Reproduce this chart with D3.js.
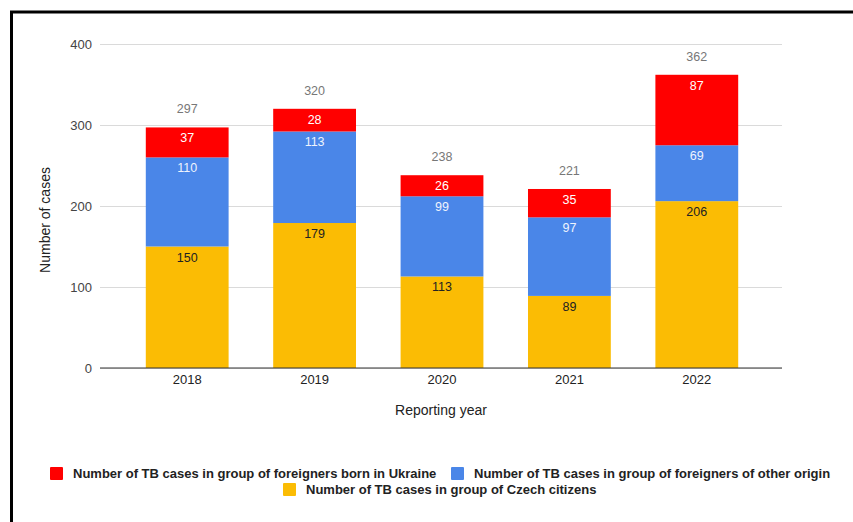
<!DOCTYPE html>
<html>
<head>
<meta charset="utf-8">
<script src="https://cdn.jsdelivr.net/npm/d3@7"></script>
<style>
  html, body { margin: 0; padding: 0; background: #fff; }
  svg { display: block; font-family: "Liberation Sans", Arial, sans-serif; }
</style>
</head>
<body>
<svg id="chart" width="853" height="522"></svg>
<script>
// Reported TB cases by population group, Czech Republic
const years = ["2018", "2019", "2020", "2021", "2022"];
const czech = [150, 179, 113, 89, 206];
const otherForeign = [110, 113, 99, 97, 69];
const ukraine = [37, 28, 26, 35, 87];
const yTicks = [0, 100, 200, 300, 400];

const seriesNames = [
  "Number of TB cases in group of Czech citizens",
  "Number of TB cases in group of foreigners of other origin",
  "Number of TB cases in group of foreigners born in Ukraine"
];
const seriesKeys = ["czech", "other", "ukraine"];
const colors = { czech: "#fbbc04", other: "#4a86e8", ukraine: "#ff0000" };
const labelColors = { czech: "#222", other: "#eef3fd", ukraine: "#fff" };

const rows = years.map((y, i) => ({
  year: y, czech: czech[i], other: otherForeign[i], ukraine: ukraine[i]
}));

const svg = d3.select("#chart");

// outer frame
svg.append("path")
  .attr("d", "M11.5,522 L11.5,12 L853,12")
  .attr("fill", "none").attr("stroke", "#000").attr("stroke-width", 3);

const plot = { left: 100, right: 782, top: 44, bottom: 368 };

const x = d3.scaleBand()
  .domain(years)
  .range([123.5, 760.5])
  .paddingInner(0.35)
  .paddingOuter(0.175);

const y = d3.scaleLinear().domain([0, 400]).range([plot.bottom, plot.top]);

// gridlines + y tick labels
const yAxis = d3.axisLeft(y).tickValues(yTicks).tickSize(-(plot.right - plot.left)).tickPadding(8);
const gy = svg.append("g").attr("transform", `translate(${plot.left},0)`).call(yAxis);
gy.select(".domain").remove();
gy.selectAll(".tick line").attr("stroke", "#dadada").attr("stroke-width", 1);
gy.selectAll(".tick text").attr("fill", "#444").attr("font-size", 13).attr("font-family", "Liberation Sans, Arial, sans-serif");

// stacked bars
const stack = d3.stack().keys(seriesKeys)(rows);
const layers = svg.append("g").selectAll("g").data(stack).join("g")
  .attr("fill", d => colors[d.key]);

layers.selectAll("rect").data(d => d).join("rect")
  .attr("x", d => x(d.data.year))
  .attr("width", x.bandwidth())
  .attr("y", d => y(d[1]))
  .attr("height", d => y(d[0]) - y(d[1]));

// segment value labels
svg.append("g").selectAll("g").data(stack).join("g")
  .attr("fill", d => labelColors[d.key])
  .each(function (layer) {
    d3.select(this).selectAll("text").data(layer).join("text")
      .attr("x", d => x(d.data.year) + x.bandwidth() / 2)
      .attr("y", d => y(d[1]) + 15)
      .attr("text-anchor", "middle")
      .attr("font-size", 12.5)
      .text(d => d[1] - d[0]);
  });

// totals above bars
svg.append("g").selectAll("text").data(rows).join("text")
  .attr("x", d => x(d.year) + x.bandwidth() / 2)
  .attr("y", d => y(d.czech + d.other + d.ukraine) - 14)
  .attr("text-anchor", "middle")
  .attr("font-size", 12.5)
  .attr("fill", "#777")
  .text(d => d.czech + d.other + d.ukraine);

// baseline
svg.append("line")
  .attr("x1", plot.left).attr("x2", plot.right)
  .attr("y1", y(0)).attr("y2", y(0))
  .attr("stroke", "#333").attr("stroke-width", 1);

// x axis labels
const xAxis = d3.axisBottom(x).tickSize(0).tickPadding(7);
const gx = svg.append("g").attr("transform", `translate(0,${y(0)})`).call(xAxis);
gx.select(".domain").remove();
gx.selectAll(".tick text").attr("fill", "#222").attr("font-size", 13).attr("font-family", "Liberation Sans, Arial, sans-serif");

// axis titles
svg.append("text")
  .attr("x", 441).attr("y", 415)
  .attr("text-anchor", "middle")
  .attr("font-size", 14).attr("fill", "#222")
  .text("Reporting year");

svg.append("text")
  .attr("transform", "translate(50,220) rotate(-90)")
  .attr("text-anchor", "middle")
  .attr("font-size", 14).attr("fill", "#222")
  .text("Number of cases");

// legend
const legendItems = [
  { key: "ukraine", name: seriesNames[2], sx: 50, sy: 467 },
  { key: "other", name: seriesNames[1], sx: 451, sy: 467 },
  { key: "czech", name: seriesNames[0], sx: 283, sy: 483 }
];
const lg = svg.append("g").selectAll("g").data(legendItems).join("g")
  .attr("transform", d => `translate(${d.sx},${d.sy})`);
lg.append("rect").attr("width", 13).attr("height", 13).attr("rx", 1)
  .attr("fill", d => colors[d.key]);
lg.append("text").attr("x", 23).attr("y", 11)
  .attr("font-size", 13).attr("font-weight", "bold").attr("fill", "#222")
  .text(d => d.name);
</script>
</body>
</html>
